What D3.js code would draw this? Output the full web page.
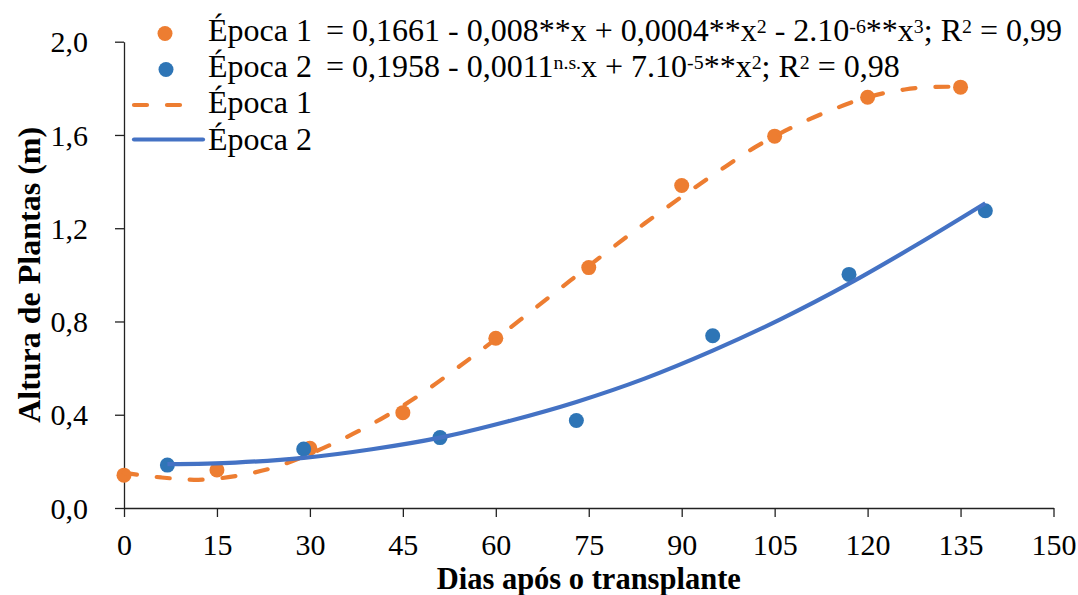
<!DOCTYPE html>
<html>
<head>
<meta charset="utf-8">
<script src="https://cdn.jsdelivr.net/npm/d3@7"></script>
<style>
  html, body { margin: 0; padding: 0; background: #fff; }
  svg { display: block; }
</style>
</head>
<body>
<svg id="chart" width="1078" height="595"></svg>
<script>
// ---- Data ----
const epoca1Days = [0, 15, 30, 45, 60, 75, 90, 105, 120, 135];
const epoca1Height = [0.141, 0.163, 0.256, 0.409, 0.728, 1.031, 1.383, 1.595, 1.762, 1.805];
const epoca2Days = [7, 29, 51, 73, 95, 117, 139];
const epoca2Height = [0.184, 0.253, 0.302, 0.375, 0.739, 1.002, 1.275];

// fitted trend lines
const trend1Days = [0, 6, 12, 18, 24, 30, 36, 42, 48, 54, 60, 66, 72, 78, 84, 90, 96, 102, 108, 114, 120, 126, 131, 135];
const trend1Height = [0.151, 0.131, 0.121, 0.137, 0.172, 0.232, 0.305, 0.39, 0.49, 0.605, 0.725, 0.85, 0.975, 1.10, 1.22, 1.335, 1.445, 1.55, 1.635, 1.705, 1.762, 1.795, 1.806, 1.807];
const trend2Days = [7, 18, 29, 40, 51, 62, 73, 84, 95, 106, 117, 128, 139];
const trend2Height = [0.188, 0.195, 0.215, 0.252, 0.302, 0.372, 0.455, 0.555, 0.675, 0.81, 0.962, 1.13, 1.307];

const xTicks = [0, 15, 30, 45, 60, 75, 90, 105, 120, 135, 150];
const yTicks = [0, 0.4, 0.8, 1.2, 1.6, 2.0];

const xTitle = "Dias após o transplante";
const yTitle = "Altura de Plantas (m)";
const seriesNames = ["Época 1", "Época 2"];

const orange = "#ED7D31";
const bluePt = "#2E75B6";
const blueLine = "#4472C4";
const FONT = "'Liberation Serif', 'Times New Roman', Tinos, serif";

// ---- Scales ----
const svg = d3.select("#chart");
const x = d3.scaleLinear().domain([0, 150]).range([124, 1053.5]);
const y = d3.scaleLinear().domain([0, 2.0]).range([508, 41.7]);

// ---- Axes ----
const fmt = d => d3.format(".1f")(d).replace(".", ",");

const xAxis = svg.append("g")
  .attr("transform", `translate(0,${y(0)})`)
  .call(d3.axisBottom(x).tickValues(xTicks).tickSize(9).tickSizeOuter(0).tickPadding(8));
xAxis.attr("font-family", null);
xAxis.select(".domain").attr("stroke", "#222").attr("stroke-width", 1.3);
xAxis.selectAll(".tick line").attr("stroke", "#222").attr("stroke-width", 1.3);
xAxis.selectAll(".tick text").style("font-family", FONT).style("font-size", "30px")
  .attr("fill", "#000").attr("dy", null).attr("y", 47);

const yAxis = svg.append("g")
  .attr("transform", `translate(${x(0)},0)`)
  .call(d3.axisLeft(y).tickValues(yTicks).tickFormat(fmt).tickSize(9).tickSizeOuter(0).tickPadding(27));
yAxis.attr("font-family", null);
yAxis.select(".domain").attr("stroke", "#222").attr("stroke-width", 1.3);
yAxis.selectAll(".tick line").attr("stroke", "#222").attr("stroke-width", 1.3);
yAxis.selectAll(".tick text").style("font-family", FONT).style("font-size", "30px")
  .attr("fill", "#000").attr("dy", "0.34em");

// Axis titles
svg.append("text")
  .attr("x", (x(0) + x(150)) / 2)
  .attr("y", 588.5)
  .attr("text-anchor", "middle")
  .style("font-family", FONT).style("font-size", "30.5px").style("font-weight", "bold")
  .text(xTitle);

svg.append("text")
  .attr("transform", `translate(40,${(y(0) + y(2)) / 2}) rotate(-90)`)
  .attr("text-anchor", "middle")
  .style("font-family", FONT).style("font-size", "32px").style("font-weight", "bold")
  .text(yTitle);

// ---- Points ----
const pts1 = epoca1Days.map((d, i) => [d, epoca1Height[i]]);
const pts2 = epoca2Days.map((d, i) => [d, epoca2Height[i]]);

svg.append("g").selectAll("circle").data(pts1).join("circle")
  .attr("cx", d => x(d[0])).attr("cy", d => y(d[1])).attr("r", 7.5).attr("fill", orange);
svg.append("g").selectAll("circle").data(pts2).join("circle")
  .attr("cx", d => x(d[0])).attr("cy", d => y(d[1])).attr("r", 7.5).attr("fill", bluePt);

// ---- Trend lines ----
const line = d3.line().x(d => x(d[0])).y(d => y(d[1])).curve(d3.curveMonotoneX);
const tr1 = trend1Days.map((d, i) => [d, trend1Height[i]]);
const tr2 = trend2Days.map((d, i) => [d, trend2Height[i]]);

svg.append("path").datum(tr1).attr("d", line)
  .attr("fill", "none").attr("stroke", orange).attr("stroke-width", 4.2)
  .attr("stroke-linecap", "round").attr("stroke-dasharray", "13 20");
svg.append("path").datum(tr2).attr("d", line)
  .attr("fill", "none").attr("stroke", blueLine).attr("stroke-width", 4.2);

// ---- Legend ----
const lg = svg.append("g");
const LFS = 32;
const rowBase = [41, 77, 113, 150];

lg.append("circle").attr("cx", 165).attr("cy", 33.5).attr("r", 7.5).attr("fill", orange);
lg.append("circle").attr("cx", 166).attr("cy", 69.5).attr("r", 7.5).attr("fill", bluePt);
lg.append("line").attr("x1", 134).attr("x2", 200).attr("y1", 105).attr("y2", 105)
  .attr("stroke", orange).attr("stroke-width", 4.2).attr("stroke-linecap", "round").attr("stroke-dasharray", "13 20");
lg.append("line").attr("x1", 134).attr("x2", 203).attr("y1", 139.5).attr("y2", 139.5)
  .attr("stroke", blueLine).attr("stroke-width", 4.2).attr("stroke-linecap", "round");

for (let i = 0; i < 4; i++) {
  lg.append("text").attr("x", 208).attr("y", rowBase[i])
    .style("font-family", FONT).style("font-size", LFS + "px")
    .text(seriesNames[i % 2]);
}

// equations: segments [text, isSuper]
const eq1 = [["= 0,1661 - 0,008**x + 0,0004**x", false], ["2", true], [" - 2.10", false], ["-6", true],
             ["**x", false], ["3", true], ["; R", false], ["2", true], [" = 0,99", false]];
const eq2 = [["= 0,1958 - 0,0011", false], ["n.s.", true], ["x + 7.10", false], ["-5", true],
             ["**x", false], ["2", true], ["; R", false], ["2", true], [" = 0,98", false]];

function eqText(segs, yb) {
  const t = lg.append("text").attr("x", 326).attr("y", yb)
    .style("font-family", FONT).style("font-size", LFS + "px")
    .style("white-space", "pre");
  segs.forEach(s => {
    const ts = t.append("tspan").text(s[0]);
    if (s[1]) ts.style("font-size", (LFS * 0.62) + "px").attr("baseline-shift", "42%");
  });
}
eqText(eq1, rowBase[0]);
eqText(eq2, rowBase[1]);
</script>
</body>
</html>
